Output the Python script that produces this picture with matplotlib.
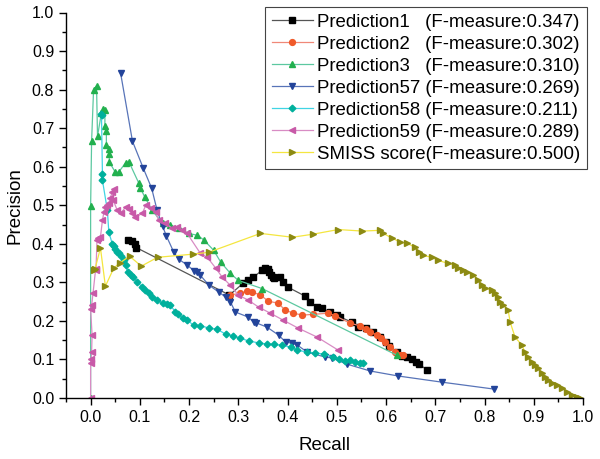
import matplotlib
matplotlib.use("Agg")
import matplotlib.pyplot as plt
from matplotlib.ticker import MultipleLocator

plt.rcParams['font.family'] = ['Liberation Sans', 'DejaVu Sans']

# ---- data (recall, precision) ----
p1_recall = [0.075, 0.085, 0.09, 0.093, 0.282, 0.31, 0.32, 0.33, 0.349, 0.355, 0.36, 0.363,
             0.366, 0.37, 0.372, 0.385, 0.39, 0.40, 0.436, 0.446, 0.46, 0.47, 0.487, 0.50,
             0.507, 0.53, 0.544, 0.56, 0.574, 0.587, 0.60, 0.607, 0.622, 0.632, 0.643,
             0.652, 0.66, 0.667, 0.683]
p1_prec = [0.41, 0.407, 0.40, 0.39, 0.267, 0.298, 0.305, 0.313, 0.332, 0.336, 0.334, 0.328,
           0.32, 0.315, 0.312, 0.313, 0.30, 0.288, 0.264, 0.249, 0.236, 0.233, 0.223, 0.215,
           0.21, 0.197, 0.184, 0.181, 0.171, 0.158, 0.145, 0.135, 0.119, 0.11, 0.106,
           0.102, 0.093, 0.088, 0.073]

p2_recall = [0.284, 0.304, 0.318, 0.328, 0.345, 0.361, 0.381, 0.395, 0.412, 0.43, 0.452,
             0.483, 0.497, 0.527, 0.548, 0.56, 0.568, 0.582, 0.59, 0.598, 0.608, 0.619,
             0.629, 0.635]
p2_prec = [0.267, 0.272, 0.277, 0.275, 0.267, 0.251, 0.246, 0.228, 0.22, 0.215, 0.217,
           0.22, 0.213, 0.194, 0.187, 0.18, 0.171, 0.163, 0.155, 0.145, 0.133, 0.12,
           0.111, 0.111]

p3_recall = [0.0, 0.0, 0.002, 0.006, 0.012, 0.014, 0.022, 0.026, 0.029, 0.029, 0.032, 0.032,
             0.037, 0.038, 0.038, 0.05, 0.057, 0.071, 0.078, 0.098, 0.101, 0.11, 0.125,
             0.146, 0.162, 0.18, 0.199, 0.217, 0.23, 0.25, 0.264, 0.284, 0.30, 0.348, 0.622]
p3_prec = [0.0, 0.497, 0.666, 0.80, 0.81, 0.679, 0.74, 0.75, 0.748, 0.705, 0.692, 0.655,
           0.645, 0.632, 0.612, 0.586, 0.586, 0.61, 0.612, 0.557, 0.545, 0.521, 0.487,
           0.453, 0.448, 0.44, 0.427, 0.422, 0.41, 0.383, 0.353, 0.323, 0.305, 0.284, 0.111]

p57_recall = [0.061, 0.085, 0.107, 0.124, 0.135, 0.146, 0.154, 0.169, 0.179, 0.196, 0.21,
              0.216, 0.223, 0.24, 0.26, 0.274, 0.284, 0.294, 0.32, 0.331, 0.336, 0.358,
              0.382, 0.396, 0.41, 0.42, 0.44, 0.477, 0.49, 0.52, 0.568, 0.625, 0.714, 0.82]
p57_prec = [0.842, 0.666, 0.596, 0.544, 0.487, 0.446, 0.42, 0.378, 0.36, 0.345, 0.33,
            0.327, 0.318, 0.293, 0.275, 0.262, 0.249, 0.223, 0.21, 0.197, 0.195, 0.184,
            0.163, 0.145, 0.142, 0.137, 0.119, 0.106, 0.104, 0.088, 0.07, 0.057, 0.041, 0.023]

p58_recall = [0.024, 0.022, 0.024, 0.024, 0.034, 0.037, 0.044, 0.047, 0.05, 0.053, 0.057,
              0.062, 0.067, 0.071, 0.075, 0.081, 0.087, 0.095, 0.105, 0.111, 0.118, 0.125,
              0.135, 0.146, 0.155, 0.162, 0.172, 0.178, 0.187, 0.196, 0.209, 0.223, 0.24,
              0.257, 0.274, 0.29, 0.304, 0.321, 0.341, 0.358, 0.372, 0.389, 0.406, 0.42,
              0.44, 0.456, 0.473, 0.493, 0.505, 0.517, 0.527, 0.537, 0.548, 0.554]
p58_prec = [0.733, 0.738, 0.582, 0.565, 0.487, 0.43, 0.40, 0.393, 0.386, 0.38, 0.375,
            0.368, 0.357, 0.345, 0.327, 0.32, 0.313, 0.30, 0.288, 0.28, 0.272, 0.262,
            0.254, 0.246, 0.244, 0.241, 0.223, 0.218, 0.207, 0.202, 0.189, 0.187, 0.182,
            0.178, 0.166, 0.161, 0.155, 0.148, 0.143, 0.14, 0.139, 0.137, 0.132, 0.124,
            0.119, 0.117, 0.114, 0.106, 0.102, 0.096, 0.098, 0.094, 0.09, 0.09]

p59_recall = [0.0, 0.0, 0.001, 0.002, 0.003, 0.0, 0.002, 0.005, 0.01, 0.011, 0.013, 0.016,
              0.02, 0.024, 0.027, 0.030, 0.033, 0.037, 0.04, 0.044, 0.047, 0.046, 0.054,
              0.061, 0.071, 0.078, 0.085, 0.091, 0.105, 0.112, 0.122, 0.132, 0.138, 0.152,
              0.166, 0.176, 0.186, 0.196, 0.223, 0.237, 0.254, 0.267, 0.284, 0.30, 0.32,
              0.341, 0.365, 0.391, 0.422, 0.46, 0.503]
p59_prec = [0.0, 0.09, 0.10, 0.12, 0.163, 0.23, 0.24, 0.273, 0.332, 0.335, 0.41, 0.415,
            0.418, 0.461, 0.482, 0.495, 0.50, 0.505, 0.52, 0.534, 0.543, 0.513, 0.487,
            0.479, 0.495, 0.49, 0.479, 0.469, 0.479, 0.50, 0.492, 0.482, 0.461, 0.453,
            0.44, 0.443, 0.435, 0.427, 0.375, 0.365, 0.337, 0.314, 0.292, 0.267, 0.254,
            0.236, 0.22, 0.202, 0.181, 0.158, 0.124]

smiss_recall = [0.006, 0.009, 0.02, 0.03, 0.047, 0.059, 0.079, 0.103, 0.136, 0.207, 0.24,
                0.345, 0.41, 0.452, 0.503, 0.552, 0.588, 0.594, 0.612, 0.629, 0.643, 0.659,
                0.667, 0.675, 0.693, 0.706, 0.726, 0.74, 0.747, 0.757, 0.764, 0.777, 0.787,
                0.795, 0.801, 0.815, 0.821, 0.828, 0.832, 0.838, 0.848, 0.852, 0.862, 0.876,
                0.882, 0.888, 0.896, 0.903, 0.909, 0.917, 0.923, 0.929, 0.937, 0.947, 0.957,
                0.968, 0.978, 0.988, 0.994]
smiss_prec = [0.332, 0.335, 0.389, 0.29, 0.337, 0.35, 0.368, 0.342, 0.365, 0.373, 0.378,
              0.427, 0.417, 0.425, 0.437, 0.433, 0.435, 0.427, 0.415, 0.404, 0.401, 0.391,
              0.38, 0.37, 0.365, 0.357, 0.349, 0.345, 0.337, 0.332, 0.327, 0.319, 0.306,
              0.293, 0.285, 0.28, 0.272, 0.262, 0.249, 0.241, 0.228, 0.197, 0.158, 0.137,
              0.119, 0.106, 0.093, 0.085, 0.078, 0.065, 0.054, 0.047, 0.039, 0.034, 0.026,
              0.016, 0.008, 0.003, 0.0]

labels = ["Prediction1   (F-measure:0.347)",
          "Prediction2   (F-measure:0.302)",
          "Prediction3   (F-measure:0.310)",
          "Prediction57 (F-measure:0.269)",
          "Prediction58 (F-measure:0.211)",
          "Prediction59 (F-measure:0.289)",
          "SMISS score(F-measure:0.500)"]
x_ticks = [0.0, 0.1, 0.2, 0.3, 0.4, 0.5, 0.6, 0.7, 0.8, 0.9, 1.0]
y_ticks = [0.0, 0.1, 0.2, 0.3, 0.4, 0.5, 0.6, 0.7, 0.8, 0.9, 1.0]

series = [
    (p1_recall, p1_prec, 's', '#000000', '#555555'),
    (p2_recall, p2_prec, 'o', '#f05a2a', '#f08878'),
    (p3_recall, p3_prec, '^', '#22b04e', '#5cc8a0'),
    (p57_recall, p57_prec, 'v', '#23449a', '#5874b8'),
    (p58_recall, p58_prec, 'D', '#00b09c', '#40d4e4'),
    (p59_recall, p59_prec, '<', '#c85aa8', '#d88cc4'),
    (smiss_recall, smiss_prec, '>', '#8c8a12', '#f4e640'),
]

fig = plt.figure(figsize=(6.0, 4.59), dpi=100)
ax = fig.add_axes([66/600, 1 - 398/459, (583 - 66)/600, (398 - 12.5)/459])

for (xs, ys, mk, mc, lc), lab in zip(series, labels):
    ms = 3.4 if mk == 'D' else 4.2
    ax.plot(xs, ys, color=lc, lw=0.9, marker=mk, markersize=ms,
            markerfacecolor=mc, markeredgecolor=mc, label=lab)

ax.set_xlim(-0.05, 1.0)
ax.set_ylim(0.0, 1.0)
ax.set_xticks(x_ticks)
ax.set_yticks(y_ticks)
ax.set_xticklabels([f"{v:.1f}" for v in x_ticks])
ax.set_yticklabels([f"{v:.1f}" for v in y_ticks])
ax.xaxis.set_minor_locator(MultipleLocator(0.05))
ax.yaxis.set_minor_locator(MultipleLocator(0.05))
ax.tick_params(which='major', direction='out', length=5, width=1.0, labelsize=11.5)
ax.tick_params(which='minor', direction='out', length=3, width=1.0)
ax.spines['top'].set_visible(False)
ax.spines['right'].set_visible(False)
ax.spines['left'].set_linewidth(1.0)
ax.spines['bottom'].set_linewidth(1.0)
ax.set_xlabel("Recall", fontsize=13.5, labelpad=9)
ax.set_ylabel("Precision", fontsize=13.5, labelpad=6)

leg = ax.legend(loc='upper right', bbox_to_anchor=(587/600, 1 - 7/459),
                bbox_transform=fig.transFigure, borderaxespad=0, fontsize=13.4,
                numpoints=1, handlelength=2.2, handletextpad=0.25,
                labelspacing=0.27, borderpad=0.35, fancybox=False, framealpha=1)
leg.get_frame().set_edgecolor('#444444')
leg.get_frame().set_linewidth(0.8)

fig.savefig("out.png", dpi=100)
